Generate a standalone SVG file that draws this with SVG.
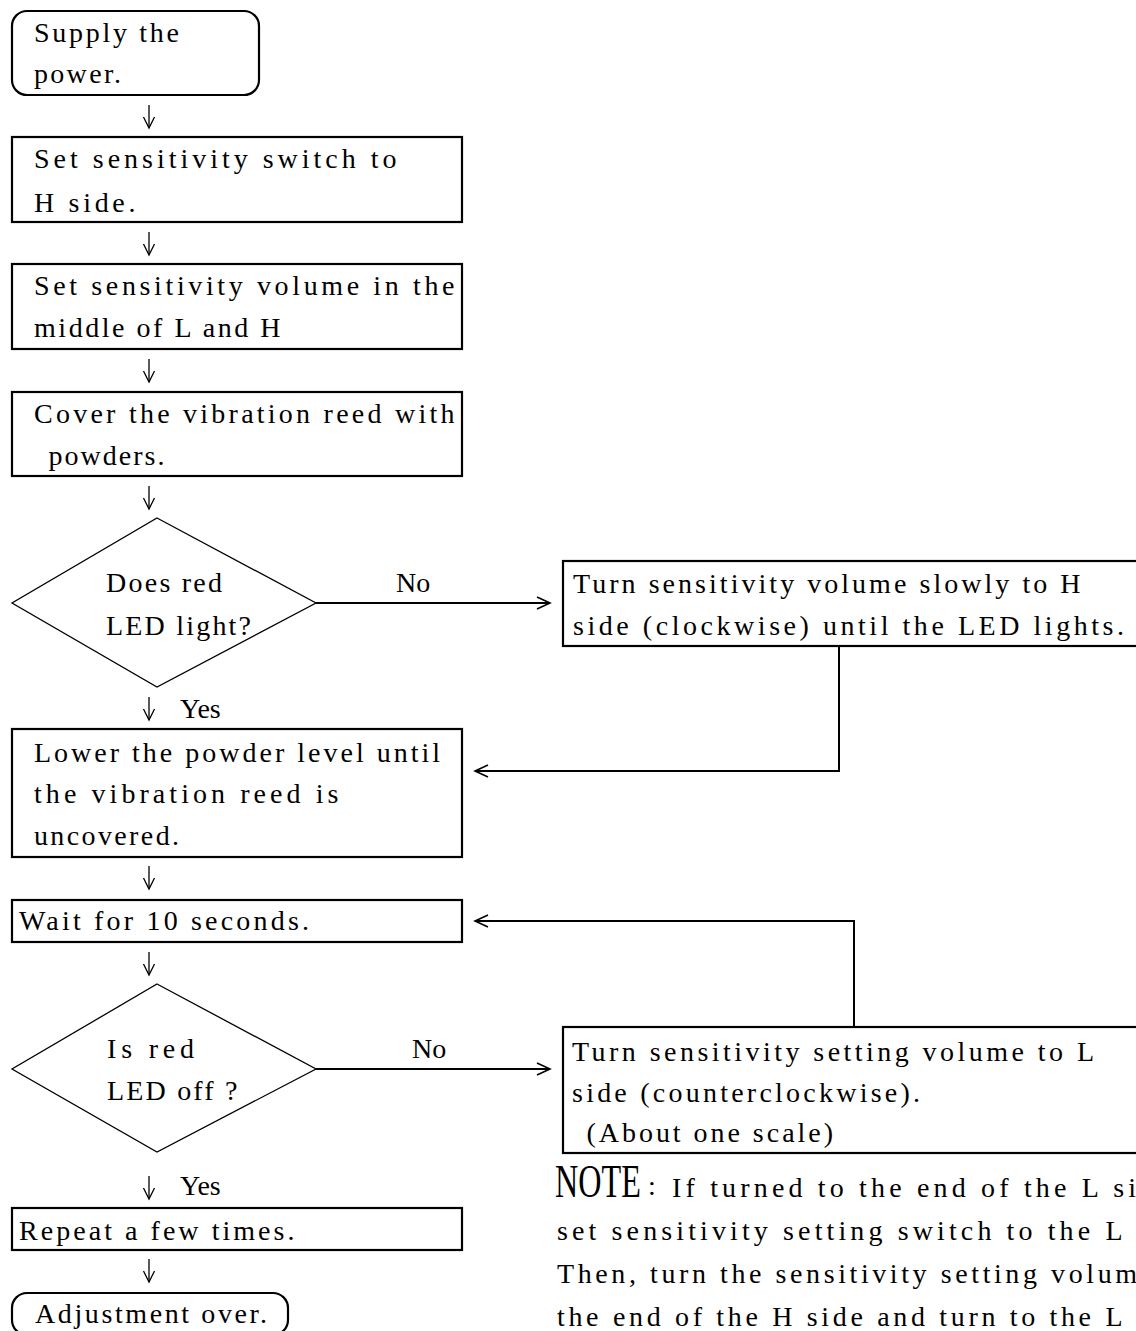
<svg xmlns="http://www.w3.org/2000/svg" width="1136" height="1331" viewBox="0 0 1136 1331">
<style>
  .box { fill: #fff; stroke: #000; stroke-width: 2.2; }
  .dia { fill: #fff; stroke: #000; stroke-width: 1.3; }
  .t { font-family: "Liberation Serif", "Times New Roman", serif; font-size: 28px; fill: #000; }
  .big { font-size: 46px; }
  .down { fill: none; stroke: #000; stroke-width: 1.3; marker-end: url(#chev); }
  .conn { fill: none; stroke: #000; stroke-width: 2; marker-end: url(#chevH); }
</style>
<defs>
  <marker id="chev" markerUnits="userSpaceOnUse" markerWidth="14" markerHeight="14" refX="12" refY="6" orient="auto" overflow="visible">
    <path d="M1,0.5 L12,6 L1,11.5" fill="none" stroke="#000" stroke-width="1.3"/>
  </marker>
  <marker id="chevH" markerUnits="userSpaceOnUse" markerWidth="16" markerHeight="16" refX="13" refY="6" orient="auto" overflow="visible">
    <path d="M0,0 L13,6 L0,12" fill="none" stroke="#000" stroke-width="1.6"/>
  </marker>
</defs>

<g id="connectors">
  <path class="down" d="M149,105 V128"/>
  <path class="down" d="M149,232 V255"/>
  <path class="down" d="M149,359 V382"/>
  <path class="down" d="M149,486 V509"/>
  <path class="down" d="M149,697 V720"/>
  <path class="down" d="M149,866 V889"/>
  <path class="down" d="M149,952 V975"/>
  <path class="down" d="M149,1176 V1199"/>
  <path class="down" d="M149,1259 V1282"/>
  <path class="conn" d="M316,603 H550"/>
  <path class="conn" d="M839,646 V771 H475"/>
  <path class="conn" d="M854,1027 V921 H475"/>
  <path class="conn" d="M316,1069 H550"/>
  <text class="t" x="396" y="592">No</text>
  <text class="t" x="180" y="718">Yes</text>
  <text class="t" x="412" y="1058">No</text>
  <text class="t" x="180" y="1195">Yes</text>
</g>

<g id="n-supply">
  <rect class="box" x="12" y="11" width="247" height="84" rx="15"/>
  <text class="t" x="34" y="42" textLength="145" lengthAdjust="spacing">Supply the</text>
  <text class="t" x="34" y="83" textLength="87" lengthAdjust="spacing">power.</text>
</g>

<g id="n-switch">
  <rect class="box" x="12" y="137" width="450" height="85"/>
  <text class="t" x="34" y="168" textLength="362.5" lengthAdjust="spacing">Set sensitivity switch to</text>
  <text class="t" x="34" y="212" textLength="101.5" lengthAdjust="spacing">H side.</text>
</g>

<g id="n-volume">
  <rect class="box" x="12" y="264" width="450" height="85"/>
  <text class="t" x="34" y="295" textLength="420.5" lengthAdjust="spacing">Set sensitivity volume in the</text>
  <text class="t" x="34" y="337" textLength="246.5" lengthAdjust="spacing">middle of L and H</text>
</g>

<g id="n-cover">
  <rect class="box" x="12" y="392" width="450" height="84"/>
  <text class="t" x="34" y="423" textLength="420.5" lengthAdjust="spacing">Cover the vibration reed with</text>
  <text class="t" x="48.5" y="465" textLength="116" lengthAdjust="spacing">powders.</text>
</g>

<g id="n-dec1">
  <polygon class="dia" points="157,518 316,603 157,687 12,603"/>
  <text class="t" x="106" y="592" textLength="116" lengthAdjust="spacing">Does red</text>
  <text class="t" x="106" y="635" textLength="145" lengthAdjust="spacing">LED light?</text>
</g>

<g id="n-turnH">
  <rect class="box" x="563" y="561" width="600" height="85"/>
  <text class="t" x="573" y="593" textLength="507.5" lengthAdjust="spacing">Turn sensitivity volume slowly to H</text>
  <text class="t" x="573" y="635" textLength="551" lengthAdjust="spacing">side (clockwise) until the LED lights.</text>
</g>

<g id="n-lower">
  <rect class="box" x="12" y="729" width="450" height="128"/>
  <text class="t" x="34" y="762" textLength="406" lengthAdjust="spacing">Lower the powder level until</text>
  <text class="t" x="34" y="803" textLength="304.5" lengthAdjust="spacing">the vibration reed is</text>
  <text class="t" x="34" y="845" textLength="145" lengthAdjust="spacing">uncovered.</text>
</g>

<g id="n-wait">
  <rect class="box" x="12" y="900" width="450" height="42"/>
  <text class="t" x="19" y="930" textLength="290" lengthAdjust="spacing">Wait for 10 seconds.</text>
</g>

<g id="n-dec2">
  <polygon class="dia" points="157,984 316,1069 157,1152 12,1069"/>
  <text class="t" x="107" y="1058" textLength="87" lengthAdjust="spacing">Is red</text>
  <text class="t" x="107" y="1100" textLength="130.5" lengthAdjust="spacing">LED off ?</text>
</g>

<g id="n-turnL">
  <rect class="box" x="563" y="1027" width="600" height="126"/>
  <text class="t" x="572" y="1061" textLength="522" lengthAdjust="spacing">Turn sensitivity setting volume to L</text>
  <text class="t" x="572" y="1102" textLength="348" lengthAdjust="spacing">side (counterclockwise).</text>
  <text class="t" x="586.5" y="1142" textLength="246.5" lengthAdjust="spacing">(About one scale)</text>
</g>

<g id="n-repeat">
  <rect class="box" x="12" y="1208" width="450" height="42"/>
  <text class="t" x="19" y="1240" textLength="275.5" lengthAdjust="spacing">Repeat a few times.</text>
</g>

<g id="n-end">
  <rect class="box" x="12" y="1293" width="276" height="42" rx="15"/>
  <text class="t" x="35" y="1323" textLength="232" lengthAdjust="spacing">Adjustment over.</text>
</g>

<g id="note">
  <text class="t big" transform="translate(555,1197) scale(0.7,1)">NOTE</text>
  <text class="t" x="648" y="1195">:</text>
  <text class="t" x="672" y="1197" textLength="464" lengthAdjust="spacing">If turned to the end of the L si</text>
  <text class="t" x="557" y="1240" textLength="565.5" lengthAdjust="spacing">set sensitivity setting switch to the L</text>
  <text class="t" x="557" y="1283" textLength="580" lengthAdjust="spacing">Then, turn the sensitivity setting volum</text>
  <text class="t" x="557" y="1326" textLength="565.5" lengthAdjust="spacing">the end of the H side and turn to the L</text>
</g>
</svg>
